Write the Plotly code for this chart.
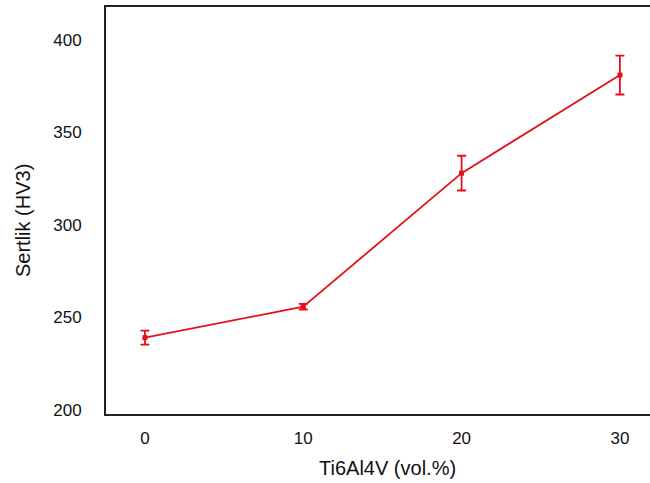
import plotly.graph_objects as go

x_vals = [0, 10, 20, 30]
hardness = [239.1, 255.8, 328.0, 381.0]
err = [3.8, 1.5, 9.4, 10.5]
x_ticks = [0, 10, 20, 30]
y_ticks = [200, 250, 300, 350, 400]
x_title = "Ti6Al4V (vol.%)"
y_title = "Sertlik (HV3)"

red = "#e3101b"

fig = go.Figure(go.Scatter(
    x=x_vals, y=hardness, mode="lines+markers",
    line=dict(color=red, width=1.8),
    marker=dict(color=red, size=5, symbol="square"),
    error_y=dict(type="data", array=err, color=red, thickness=1.8, width=4.5, visible=True),
    showlegend=False,
))

font = "Liberation Sans, Arial, sans-serif"
W, H = 650, 483
L, T, B = 106, 7, 69
fig.update_layout(
    width=W, height=H,
    margin=dict(l=L, r=0, t=T, b=B),
    paper_bgcolor="white", plot_bgcolor="white",
    font=dict(family=font, size=17, color="#111"),
    xaxis=dict(
        range=[-2.46, 31.9], tickvals=x_ticks, showgrid=False, zeroline=False,
        showline=True, linecolor="#222", linewidth=2, mirror=True,
        ticks="", ticklabelstandoff=8,
    ),
    yaxis=dict(
        range=[197.8, 417.8], tickvals=y_ticks, showgrid=False, zeroline=False,
        showline=True, linecolor="#222", linewidth=2,
        ticks="", ticklabelstandoff=19,
    ),
    annotations=[
        dict(text=x_title, xref="paper", yref="paper",
             x=(387 - L) / (W - L), y=-(468 - (H - B)) / (H - B - T),
             showarrow=False, font=dict(size=20), xanchor="center", yanchor="middle"),
        dict(text=y_title, xref="paper", yref="paper", textangle=-90,
             x=-(L - 23) / (W - L), y=(H - B - 221) / (H - B - T),
             showarrow=False, font=dict(size=20), xanchor="center", yanchor="middle"),
    ],
)

fig.write_html("out.html", config={"displayModeBar": False},
               post_script="document.body.style.margin='0';document.body.style.overflow='hidden';")
